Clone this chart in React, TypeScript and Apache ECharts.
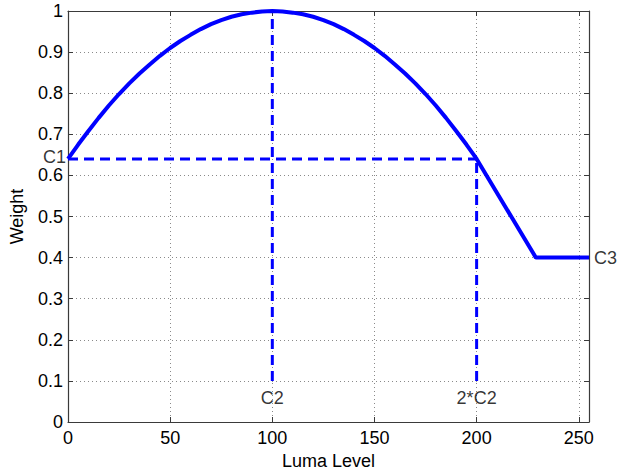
import React, { useEffect, useRef } from "react";
import * as echarts from "echarts";

// Luma level (x) and weight (y) of the weighting curve
const lumaLevels = [0, 5, 10, 15, 20, 25, 30, 35, 40, 45, 50, 55, 60, 65, 70, 75, 80, 85, 90, 95, 100,
  105, 110, 115, 120, 125, 130, 135, 140, 145, 150, 155, 160, 165, 170, 175, 180, 185, 190, 195, 200, 229, 255];
const weights = [0.64, 0.675, 0.708, 0.74, 0.77, 0.798, 0.824, 0.848, 0.87, 0.891, 0.91, 0.927, 0.942, 0.956, 0.968, 0.978, 0.986, 0.992, 0.996, 0.999, 1.0,
  0.999, 0.996, 0.992, 0.986, 0.978, 0.968, 0.956, 0.942, 0.927, 0.91, 0.891, 0.87, 0.848, 0.824, 0.798, 0.77, 0.74, 0.708, 0.675, 0.64, 0.4, 0.4];

// Dashed guide lines
const guideC1 = [[0, 0.64], [200, 0.64]];
const guideC2 = [[100, 0.1], [100, 1.0]];
const guide2C2 = [[200, 0.1], [200, 0.64]];

// Annotation labels: [x, y, text, position]
const annotations: [number, number, string, string][] = [
  [0, 0.64, "C1", "left"],
  [100, 0.058, "C2", "inside"],
  [200, 0.058, "2*C2", "inside"],
  [255, 0.4, "C3", "right"],
];

const xTicks = [0, 50, 100, 150, 200, 250];

const FONT = "'Liberation Sans', Arial, sans-serif";
const BLUE = "#0000ff";
const BOX = "#3a3a3a";
const FS = 18;

export default function App() {
  const ref = useRef<HTMLDivElement>(null);
  useEffect(() => {
    if (!ref.current) return;
    const chart = echarts.init(ref.current, undefined, { renderer: "svg" });
    const gridLine = { show: true, lineStyle: { color: "#8a8a8a", type: [1, 3] as any, width: 1 } };
    const baseX = {
      type: "value" as const,
      min: 0,
      max: 255,
      interval: 50,
      axisLine: { show: true, onZero: false, lineStyle: { color: BOX, width: 1.2 } },
      axisTick: { show: true, inside: true, length: 5, lineStyle: { color: BOX } },
    };
    const baseY = {
      type: "value" as const,
      min: 0,
      max: 1,
      interval: 0.1,
      axisLine: { show: true, onZero: false, lineStyle: { color: BOX, width: 1.2 } },
      axisTick: { show: true, inside: true, length: 5, lineStyle: { color: BOX } },
    };
    chart.setOption({
      animation: false,
      backgroundColor: "#ffffff",
      textStyle: { fontFamily: FONT },
      grid: { left: 67, top: 11, width: 522, height: 411, containLabel: false },
      xAxis: [
        {
          ...baseX,
          position: "bottom",
          name: "Luma Level",
          nameLocation: "middle",
          nameGap: 30,
          nameTextStyle: { fontSize: FS, color: "#000", fontFamily: FONT },
          splitLine: gridLine,
          axisLabel: {
            show: true,
            fontSize: FS,
            color: "#000",
            fontFamily: FONT,
            margin: 7,
            formatter: (v: number) => (xTicks.includes(v) ? String(v) : ""),
          },
        },
        {
          ...baseX,
          position: "top",
          splitLine: { show: false },
          axisLabel: { show: false },
        },
      ],
      yAxis: [
        {
          ...baseY,
          position: "left",
          name: "Weight",
          nameLocation: "middle",
          nameGap: 42,
          nameTextStyle: { fontSize: FS, color: "#000", fontFamily: FONT },
          splitLine: gridLine,
          axisLabel: {
            show: true,
            fontSize: FS,
            color: "#000",
            fontFamily: FONT,
            margin: 5,
            formatter: (v: number) => String(Math.round(v * 10) / 10),
          },
        },
        {
          ...baseY,
          position: "right",
          splitLine: { show: false },
          axisLabel: { show: false },
        },
      ],
      series: [
        {
          type: "line",
          data: guideC1,
          symbol: "none",
          lineStyle: { color: BLUE, width: 3, type: [10, 6] as any },
          z: 2,
        },
        {
          type: "line",
          data: guideC2,
          symbol: "none",
          lineStyle: { color: BLUE, width: 3, type: [10, 6] as any },
          z: 2,
        },
        {
          type: "line",
          data: guide2C2,
          symbol: "none",
          lineStyle: { color: BLUE, width: 3, type: [10, 6] as any },
          z: 2,
        },
        {
          type: "line",
          data: lumaLevels.map((x, i) => [x, weights[i]]),
          symbol: "none",
          lineStyle: { color: BLUE, width: 4 },
          z: 3,
        },
        {
          type: "scatter",
          symbolSize: 0,
          clip: false,
          silent: true,
          data: annotations.map(([x, y, t, pos]) => ({
            value: [x, y],
            label: {
              show: true,
              formatter: t,
              position: pos,
              distance: pos === "left" ? 2 : 5,
              offset: pos === "left" ? [0, -2] : [0, 0],
              color: "#000",
              fontSize: FS,
              fontFamily: FONT,
            },
          })),
          z: 4,
        },
      ],
    });
    return () => chart.dispose();
  }, []);
  return (
    <div
      ref={ref}
      style={{ position: "fixed", left: 0, top: 0, width: 619, height: 475, background: "#fff" }}
    />
  );
}
